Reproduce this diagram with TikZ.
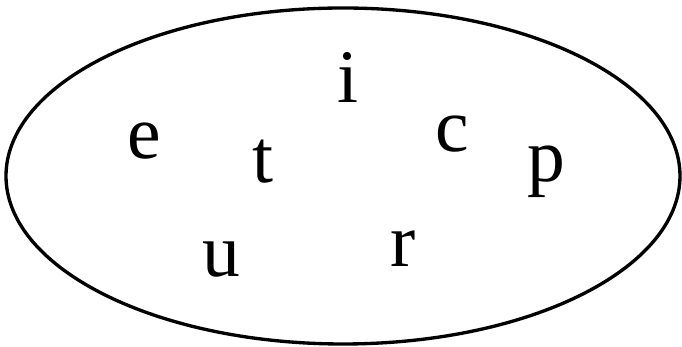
\documentclass[tikz,border=0pt]{standalone}
\usepackage{fontspec}
\setmainfont{Liberation Serif}
\usepackage{tikz}
\usetikzlibrary{positioning}

\begin{document}
\begin{tikzpicture}[
  letter/.style={anchor=base, inner sep=0pt, font=\fontsize{43}{43}\selectfont},
  setline/.style={draw, line width=1.9pt}
]
\useasboundingbox (0,0) rectangle (13.64,-6.94);
\draw[setline] (6.86,-3.52) ellipse [x radius=6.74cm, y radius=3.36cm];
\foreach \n/\x/\y in {e/2.88/-3.18, t/5.26/-3.66, i/6.96/-2.06, c/9.04/-3.04,
                      p/10.92/-3.64, u/4.42/-5.54, r/8.06/-5.34}{
  \node[letter] (\n) at (\x,\y) {\n};
}
\end{tikzpicture}
\end{document}
